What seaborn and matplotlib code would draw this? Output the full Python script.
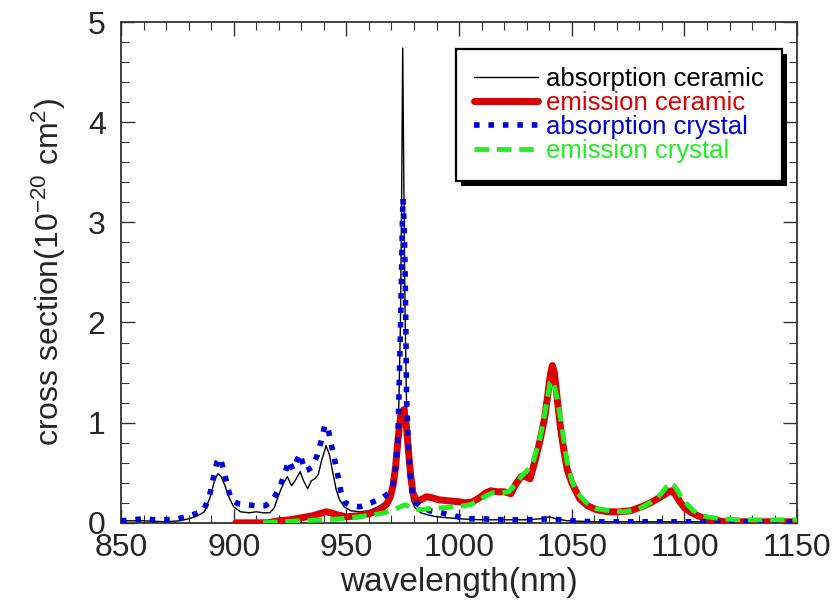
import matplotlib
matplotlib.use("Agg")
import matplotlib.pyplot as plt
from matplotlib.ticker import MultipleLocator
from matplotlib.patches import Rectangle
import seaborn as sns

# absorption cross section, ceramic sample
abs_ceramic_nm = [850, 860, 870, 876, 880, 884, 887, 889.5, 891.5, 893, 894.5, 896, 898, 900,
                  903, 907, 910, 913, 916, 918, 920, 922, 923.8, 925.7, 927.5, 929.5, 931, 932.8,
                  934.5, 936, 937.5, 939, 941, 942.5, 944, 945.5, 947, 949, 952, 956, 960, 964,
                  967, 969.5, 971, 972.3, 973.3, 974, 974.5, 975, 975.5, 976, 976.6, 977.3, 978,
                  979, 980.5, 983, 986, 990, 995, 1000, 1010, 1020, 1030, 1036, 1040, 1043, 1048,
                  1060, 1080, 1100, 1120, 1150]
abs_ceramic = [0.02, 0.02, 0.01, 0.02, 0.04, 0.07, 0.11, 0.25, 0.42, 0.49, 0.46, 0.38, 0.25, 0.16,
               0.11, 0.10, 0.11, 0.10, 0.10, 0.15, 0.28, 0.39, 0.46, 0.37, 0.43, 0.51, 0.42, 0.34,
               0.42, 0.44, 0.48, 0.62, 0.77, 0.68, 0.50, 0.33, 0.23, 0.16, 0.12, 0.11, 0.12, 0.16,
               0.20, 0.28, 0.40, 0.70, 1.20, 2.00, 3.20, 4.74, 3.40, 2.20, 1.30, 0.70, 0.40,
               0.22, 0.15, 0.10, 0.08, 0.06, 0.05, 0.04, 0.03, 0.03, 0.03, 0.04, 0.06, 0.04, 0.02,
               0.01, 0.01, 0.01, 0.01, 0.01]

# emission cross section, ceramic sample
em_ceramic_nm = [901, 910, 915, 920, 925, 930, 935, 938, 941, 943, 946, 950, 955, 960, 965, 968,
                 969.5, 970.8, 971.8, 972.8, 973.6, 974.5, 975.5, 976.5, 977.5, 978.5, 979.5, 981,
                 983, 985.5, 988, 991, 995, 1000, 1003, 1006, 1009, 1012, 1014, 1017, 1020, 1023,
                 1025, 1027.5, 1029.5, 1031.5, 1033.5, 1036, 1038, 1039.5, 1040.5, 1041.4, 1042.3,
                 1043.5, 1045, 1046.5, 1048, 1050, 1053.5, 1057, 1061, 1066, 1071, 1076, 1081,
                 1085, 1088, 1091, 1093, 1094.5, 1096, 1098, 1100, 1102.5, 1105, 1108, 1112, 1118,
                 1125, 1135, 1150]
em_ceramic = [0.0, 0.0, 0.0, 0.02, 0.03, 0.05, 0.07, 0.09, 0.11, 0.10, 0.08, 0.06, 0.07, 0.09,
              0.13, 0.19, 0.26, 0.38, 0.55, 0.80, 0.98, 1.10, 1.13, 1.00, 0.73, 0.48, 0.30, 0.22,
              0.23, 0.26, 0.25, 0.23, 0.22, 0.21, 0.20, 0.21, 0.25, 0.30, 0.32, 0.31, 0.31, 0.29,
              0.38, 0.46, 0.46, 0.44, 0.60, 0.83, 1.05, 1.30, 1.48, 1.57, 1.50, 1.25, 0.95, 0.72,
              0.53, 0.40, 0.24, 0.17, 0.13, 0.11, 0.11, 0.12, 0.16, 0.20, 0.24, 0.28, 0.31, 0.32,
              0.28, 0.21, 0.15, 0.11, 0.08, 0.05, 0.03, 0.01, 0.01, 0.01, 0.01]

# absorption cross section, single crystal
abs_crystal_nm = [850, 855, 860, 865, 870, 875, 879, 883, 886.5, 889, 891, 892.5, 894, 896, 897.5,
                  899, 902, 906, 910, 914, 917, 920, 922.5, 924.5, 926.2, 928, 929.5, 931.5, 933,
                  935, 937, 939, 940.5, 942, 943.5, 944.8, 946, 947.5, 949.5, 952, 956, 961, 966,
                  969, 970.5, 971.6, 972.8, 973.5, 974.1, 974.8, 975.1, 975.6, 976, 976.4, 976.7,
                  977.4, 978, 979.4, 981, 983, 987, 992, 998, 1003, 1010, 1020, 1030, 1040, 1050,
                  1060, 1080, 1100, 1120, 1150]
abs_crystal = [0.02, 0.03, 0.04, 0.03, 0.03, 0.04, 0.06, 0.09, 0.12, 0.24, 0.45, 0.60, 0.65, 0.49,
               0.34, 0.23, 0.19, 0.18, 0.17, 0.17, 0.22, 0.33, 0.48, 0.62, 0.53, 0.62, 0.69, 0.52,
               0.53, 0.56, 0.67, 0.83, 0.98, 0.93, 0.76, 0.63, 0.50, 0.32, 0.20, 0.17, 0.16, 0.20,
               0.25, 0.30, 0.36, 0.50, 0.80, 1.43, 2.02, 2.92, 3.24, 3.00, 2.60, 1.93, 1.26, 0.83,
               0.53, 0.28, 0.20, 0.16, 0.12, 0.10, 0.07, 0.04, 0.04, 0.03, 0.03, 0.04, 0.02, 0.01,
               0.01, 0.01, 0.01, 0.01]

# emission cross section, single crystal
em_crystal_nm = [913, 920, 930, 940, 947, 955, 962, 967, 971, 974, 976, 978, 981, 986, 992, 999,
                 1005, 1009, 1012, 1015, 1019, 1022, 1025, 1027.5, 1030.5, 1033, 1036, 1038.5,
                 1040.4, 1041.5, 1043, 1045, 1047.8, 1050, 1052, 1056.5, 1061, 1067, 1073, 1079,
                 1084.8, 1088, 1090, 1092, 1093.7, 1095.5, 1097.5, 1099, 1101, 1104, 1107, 1110,
                 1116, 1125, 1135, 1150]
em_crystal = [0.0, 0.01, 0.02, 0.03, 0.04, 0.06, 0.08, 0.10, 0.13, 0.16, 0.18, 0.16, 0.13, 0.14,
              0.15, 0.16, 0.18, 0.23, 0.27, 0.30, 0.30, 0.31, 0.38, 0.46, 0.53, 0.62, 0.85, 1.15,
              1.40, 1.42, 1.30, 1.05, 0.62, 0.42, 0.31, 0.20, 0.14, 0.12, 0.11, 0.13, 0.20, 0.25,
              0.30, 0.36, 0.40, 0.37, 0.30, 0.23, 0.19, 0.12, 0.08, 0.06, 0.04, 0.03, 0.03, 0.03]

labels = ["absorption ceramic", "emission ceramic", "absorption crystal", "emission crystal"]
x_ticks = [850, 900, 950, 1000, 1050, 1100, 1150]
y_ticks = [0, 1, 2, 3, 4, 5]

sns.set_style("ticks")
plt.rcParams["font.family"] = ["Liberation Sans", "DejaVu Sans"]
plt.rcParams["mathtext.fontset"] = "custom"
plt.rcParams["mathtext.rm"] = "Liberation Sans"
plt.rcParams["mathtext.it"] = "Liberation Sans"

fig = plt.figure(figsize=(8.4, 6.03), dpi=100)
ax = fig.add_axes([0.144, 0.133, 0.805, 0.8305])

sns.lineplot(x=abs_ceramic_nm, y=abs_ceramic, ax=ax, color="black", lw=1.0,
             label=labels[0], estimator=None, sort=False, zorder=2)
sns.lineplot(x=em_ceramic_nm, y=em_ceramic, ax=ax, color="#dd0000", lw=5.0,
             label=labels[1], estimator=None, sort=False, zorder=3)
sns.lineplot(x=abs_crystal_nm, y=abs_crystal, ax=ax, color="#0000d8", lw=4.0,
             dashes=False, label=labels[2], estimator=None, sort=False, zorder=4)
sns.lineplot(x=em_crystal_nm, y=em_crystal, ax=ax, color="#22ee22", lw=3.5,
             dashes=False, label=labels[3], estimator=None, sort=False, zorder=5)

lines = ax.get_lines()
lines[2].set_dashes((1, 1.6))
lines[2].set_dash_capstyle("butt")
lines[3].set_dashes((3, 1.6))
lines[3].set_dash_capstyle("butt")

ax.set_xlim(850, 1150)
ax.set_ylim(0, 5)
ax.set_xticks(x_ticks)
ax.set_yticks(y_ticks)
ax.xaxis.set_minor_locator(MultipleLocator(10))
ax.yaxis.set_minor_locator(MultipleLocator(0.2))
ax.tick_params(which="both", direction="in", top=True, right=True, color="#333333")
ax.tick_params(which="major", length=10, width=1.0, labelsize=23)
ax.tick_params(which="minor", length=6, width=0.8)
ax.tick_params(axis="x", pad=7)
ax.tick_params(axis="y", pad=11)
for s in ax.spines.values():
    s.set_visible(True)
    s.set_color("#333333")
    s.set_linewidth(1.3)

ax.set_xlabel("wavelength(nm)", fontsize=24, labelpad=3)
ax.set_ylabel(r"cross section(10$^{-20}$ cm$^{2}$)", fontsize=23, labelpad=14)

leg = ax.legend(loc="upper right", bbox_to_anchor=(0.977, 0.947), fontsize=18.5,
                frameon=True, fancybox=False, handlelength=2.5, handletextpad=0.3,
                labelspacing=0.0, borderpad=0.7, labelcolor="linecolor",
                borderaxespad=0)
frame = leg.get_frame()
frame.set_edgecolor("black")
frame.set_linewidth(1.6)
frame.set_facecolor("white")
frame.set_alpha(1)

# solid drop shadow behind the legend box
fig.canvas.draw()
bb = leg.get_window_extent().transformed(fig.transFigure.inverted())
dx, dy = 5 / 840, 5 / 603
shadow = Rectangle((bb.x0 + dx, bb.y0 - dy), bb.width, bb.height,
                   transform=fig.transFigure, facecolor="black", edgecolor="none",
                   zorder=4.5)
ax.add_artist(shadow)
shadow.set_clip_on(False)
leg.set_zorder(6)

fig.savefig("out.png", dpi=100)
